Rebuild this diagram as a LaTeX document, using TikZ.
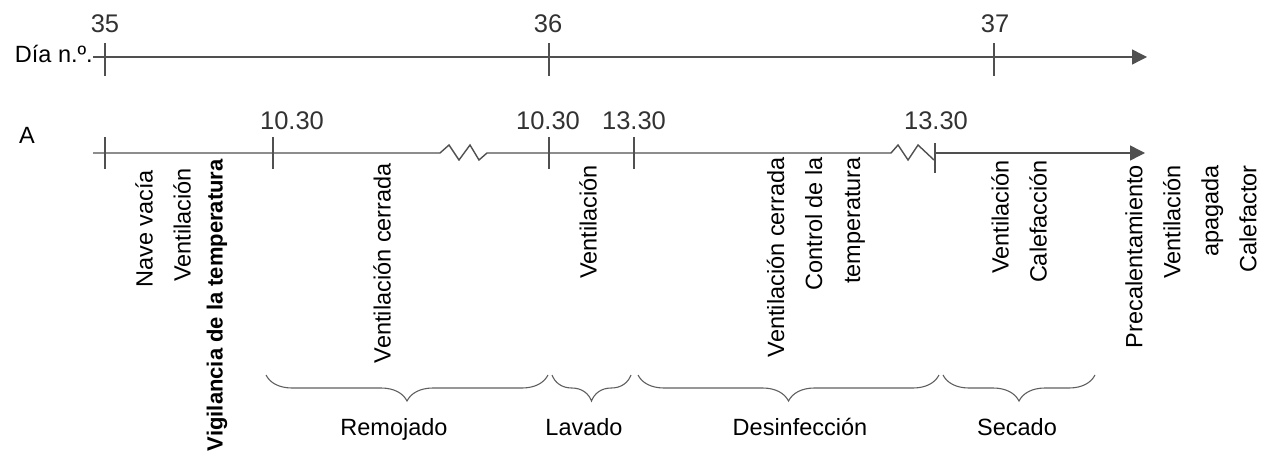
\documentclass[tikz,border=0pt]{standalone}
\usepackage{fontspec}
\setmainfont{Liberation Sans}
\usepackage{tikz}
\usetikzlibrary{calc}
\usetikzlibrary{arrows.meta}
\usetikzlibrary{decorations.pathreplacing}
\definecolor{axis-gray}{RGB}{80, 80, 80}
\definecolor{brace-gray}{RGB}{95, 95, 95}
\definecolor{num-gray}{RGB}{50, 50, 50}

\tikzset{
  axisline/.style={draw=axis-gray, line width=1.4pt},
  tickline/.style={draw=axis-gray, line width=1.2pt},
  numlbl/.style={anchor=base, inner sep=0pt, text=num-gray, font=\fontsize{25.5}{30}\selectfont},
  vlbl/.style={rotate=90, anchor=east, inner sep=0pt, align=right},
  phase/.style={draw=brace-gray, line width=1.1pt, decorate, decoration={brace, mirror, amplitude=26pt}},
  phaselbl/.style={anchor=base, inner sep=0pt},
}

\begin{document}
\begin{tikzpicture}[x=1pt, y=-1pt]\fontsize{23.5}{38}\selectfont
          \useasboundingbox (0,0) rectangle (1266,457);
          \coordinate (daystart) at (93,57);
          \coordinate (dayend) at (1147,57);
          \coordinate (d35) at (105,57);
          \coordinate (d36) at (549,57);
          \coordinate (d37) at (994,57);

          \coordinate (hstart) at (93,153);
          \coordinate (hend) at (1145,153);
          \coordinate (h1) at (105,153);
          \coordinate (h2) at (273,153);
          \coordinate (h3) at (549,153);
          \coordinate (h4) at (634,153);
          \coordinate (h5) at (935,153);

          % Dia
          \node[anchor=base east, inner sep=0pt] (dia) at (93,63) {Día n.º.};
          \draw[axisline, -{Triangle[length=15pt, width=15pt]}] (daystart) -- (dayend);
          \draw[tickline] ($(d35)+(0,-14)$) -- ($(d35)+(0,19)$);
          \draw[tickline] ($(d36)+(0,-14)$) -- ($(d36)+(0,19)$);
          \draw[tickline] ($(d37)+(0,-14)$) -- ($(d37)+(0,19)$);
          \node[numlbl] (n35) at (105,33) {35};
          \node[numlbl] (n36) at (548,33) {36};
          \node[numlbl] (n37) at (995,33) {37};

          % A
          \node[anchor=base, inner sep=0pt] (a) at (27,144) {A};
          \draw[axisline] (hstart) -- (440,153) -- (449,145) -- (459,160) -- (470,145) -- (479,160) -- (487,153) -- (891,153)
                -- (898,145) -- (908,160) -- (918,145) -- (934,160);
          \draw[axisline, -{Triangle[length=15pt, width=15pt]}] (h5) -- (hend);
          \draw[tickline] ($(h1)+(0,-16)$) -- ($(h1)+(0,16)$);
          \draw[tickline] ($(h2)+(0,-16)$) -- ($(h2)+(0,16)$);
          \draw[tickline] ($(h3)+(0,-16)$) -- ($(h3)+(0,16)$);
          \draw[tickline] ($(h4)+(0,-16)$) -- ($(h4)+(0,16)$);
          \draw[tickline] ($(h5)+(0,-10)$) -- ($(h5)+(0,20)$);
          \node[numlbl] (t1) at (292,130) {10.30};
          \node[numlbl] (t2) at (548,130) {10.30};
          \node[numlbl] (t3) at (634,130) {13.30};
          \node[numlbl] (t4) at (936,130) {13.30};

          \node[vlbl] (nave) at (144,170) {Nave vacía};
          \node[vlbl] (vent-a) at (182,168) {Ventilación};
          \node[vlbl, font=\bfseries\fontsize{22}{26}\selectfont] (vigil) at (217,159) {Vigilancia de la temperatura};
          \node[vlbl] (vent-remoj) at (382,163) {Ventilación cerrada};
          \node[vlbl] (vent-lav) at (588,165) {Ventilación};
          \node[vlbl] (desinf-txt) at (816,157) {Ventilación cerrada\\Control de la\\temperatura};
          \node[vlbl] (secado-txt) at (1019,160) {Ventilación\\Calefacción};
          \node[vlbl] (precal) at (1191,165) {Precalentamiento\\Ventilación\\apagada\\Calefactor};

          \draw[phase] (266,375) -- (548,375);
          \draw[phase] (552,375) -- (631,375);
          \draw[phase] (638,375) -- (939,375);
          \draw[phase] (943,375) -- (1095,375);
          \node[phaselbl] (remojado) at (394,435) {Remojado};
          \node[phaselbl] (lavado) at (584,435) {Lavado};
          \node[phaselbl] (desinf) at (800,435) {Desinfección};
          \node[phaselbl] (secado) at (1017,435) {Secado};
        \end{tikzpicture}
\end{document}
